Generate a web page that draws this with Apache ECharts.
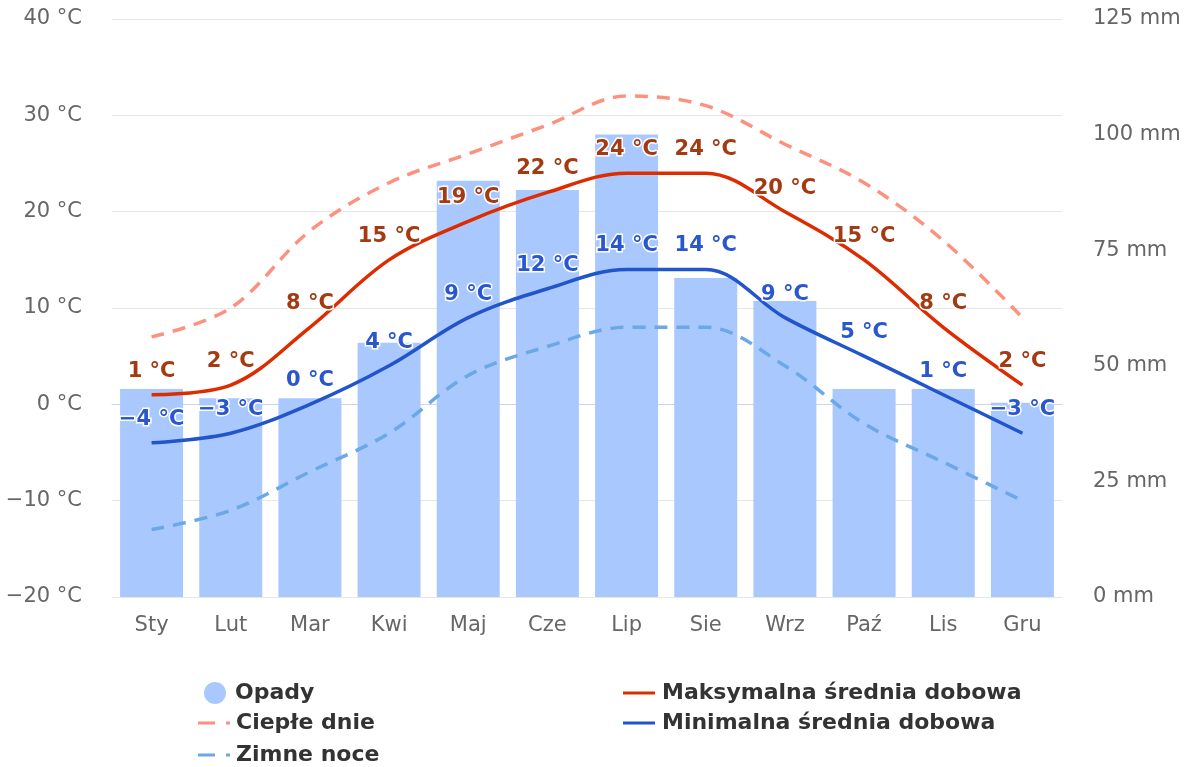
<!DOCTYPE html>
<html>
<head>
<meta charset="utf-8">
<script src="https://cdn.jsdelivr.net/npm/echarts@6/dist/echarts.min.js"></script>
<style>
  html, body { margin: 0; padding: 0; background: #fff; }
  #chart { width: 1192px; height: 767px; }
</style>
</head>
<body>
<div id="chart"></div>
<script>
// month names
const months = ['Sty', 'Lut', 'Mar', 'Kwi', 'Maj', 'Cze', 'Lip', 'Sie', 'Wrz', 'Paź', 'Lis', 'Gru'];

// precipitation, mm (right axis)
const precipitation = [45, 43, 43, 55, 90, 88, 100, 69, 64, 45, 45, 42];

// temperatures, °C (left axis)
const maxTemp = [1, 2, 8, 15, 19, 22, 24, 24, 20, 15, 8, 2];
const minTemp = [-4, -3, 0, 4, 9, 12, 14, 14, 9, 5, 1, -3];
const warmDays = [7, 10, 18, 23, 26, 29, 32, 31, 27, 23, 17, 9];
const coldNights = [-13, -11, -7, -3, 3, 6, 8, 8, 4, -2, -6, -10];

// axis ticks
const tempTicks = [-20, -10, 0, 10, 20, 30, 40];
const rainTicks = [0, 25, 50, 75, 100, 125];

const fmtTemp = v => String(v).replace('-', '\u2212') + ' °C';

const chart = echarts.init(document.getElementById('chart'));

const labelStyle = (color) => ({
  show: true,
  position: 'top',
  distance: 13,
  formatter: p => fmtTemp(p.value),
  color: color,
  fontSize: 21,
  fontWeight: 'bold',
  fontFamily: 'DejaVu Sans',
  textBorderColor: '#fff',
  textBorderWidth: 3
});

// icons for the legend
const solidIcon = 'path://M0,0H32V3H0Z';
const dashIcon = 'path://M0,0H17V3H0Z M28,0H32V3H28Z';

// one legend per entry so each can sit where the reference has it
const legendItem = (name, icon, left, top, w, h) => ({
  orient: 'horizontal',
  left: left,
  top: top,
  padding: 0,
  itemWidth: w,
  itemHeight: h,
  textStyle: { fontSize: 22, fontWeight: 'bold', color: '#333' },
  data: [{ name: name, icon: icon }]
});

const option = {
  animation: false,
  textStyle: { fontFamily: 'DejaVu Sans' },
  grid: {
    left: 112,
    right: 130,
    top: 19,
    bottom: 170,
    outerBoundsMode: 'none'
  },
  legend: [
    legendItem('Opady', 'circle', 204, 682, 30, 22),
    legendItem('Ciepłe dnie', dashIcon, 198, 712, 34, 3),
    legendItem('Zimne noce', dashIcon, 198, 744, 34, 3),
    legendItem('Maksymalna średnia dobowa', solidIcon, 623, 682, 36, 3),
    legendItem('Minimalna średnia dobowa', solidIcon, 623, 712, 36, 3)
  ],
  xAxis: {
    type: 'category',
    data: months,
    boundaryGap: true,
    axisTick: { show: false },
    axisLine: { lineStyle: { color: '#ccd6eb', width: 1 } },
    axisLabel: { color: '#666', fontSize: 21, margin: 18 }
  },
  yAxis: [
    {
      type: 'value',
      min: tempTicks[0],
      max: tempTicks[tempTicks.length - 1],
      interval: 10,
      axisLine: { show: false },
      axisTick: { show: false },
      splitLine: { lineStyle: { color: '#e6e6e6', width: 1 } },
      axisLabel: { color: '#666', fontSize: 21, margin: 30, formatter: v => fmtTemp(v) }
    },
    {
      type: 'value',
      min: rainTicks[0],
      max: rainTicks[rainTicks.length - 1],
      interval: 25,
      axisLine: { show: false },
      axisTick: { show: false },
      splitLine: { show: false },
      axisLabel: { color: '#666', fontSize: 21, margin: 31, formatter: v => v + ' mm' }
    }
  ],
  series: [
    {
      name: 'Opady',
      type: 'bar',
      yAxisIndex: 1,
      data: precipitation,
      barWidth: 63,
      itemStyle: { color: '#a9c8fd' },
      z: 1
    },
    {
      name: 'Ciepłe dnie',
      type: 'line',
      data: warmDays,
      smooth: 0.35,
      symbol: 'none',
      lineStyle: { color: '#fd917f', width: 3.5, type: [13, 9] },
      itemStyle: { color: '#fd917f' },
      z: 2
    },
    {
      name: 'Zimne noce',
      type: 'line',
      data: coldNights,
      smooth: 0.35,
      symbol: 'none',
      lineStyle: { color: '#6aa8e6', width: 3.5, type: [13, 9] },
      itemStyle: { color: '#6aa8e6' },
      z: 2
    },
    {
      name: 'Maksymalna średnia dobowa',
      type: 'line',
      data: maxTemp,
      smooth: 0.35,
      symbol: 'circle',
      symbolSize: 0,
      showSymbol: true,
      lineStyle: { color: '#dd2c00', width: 3.5 },
      itemStyle: { color: '#dd2c00' },
      label: labelStyle('#a33a12'),
      z: 3
    },
    {
      name: 'Minimalna średnia dobowa',
      type: 'line',
      data: minTemp,
      smooth: 0.35,
      symbol: 'circle',
      symbolSize: 0,
      showSymbol: true,
      lineStyle: { color: '#2254cb', width: 3.5 },
      itemStyle: { color: '#2254cb' },
      label: labelStyle('#2a57cf'),
      z: 3
    }
  ]
};

chart.setOption(option);
</script>
</body>
</html>
